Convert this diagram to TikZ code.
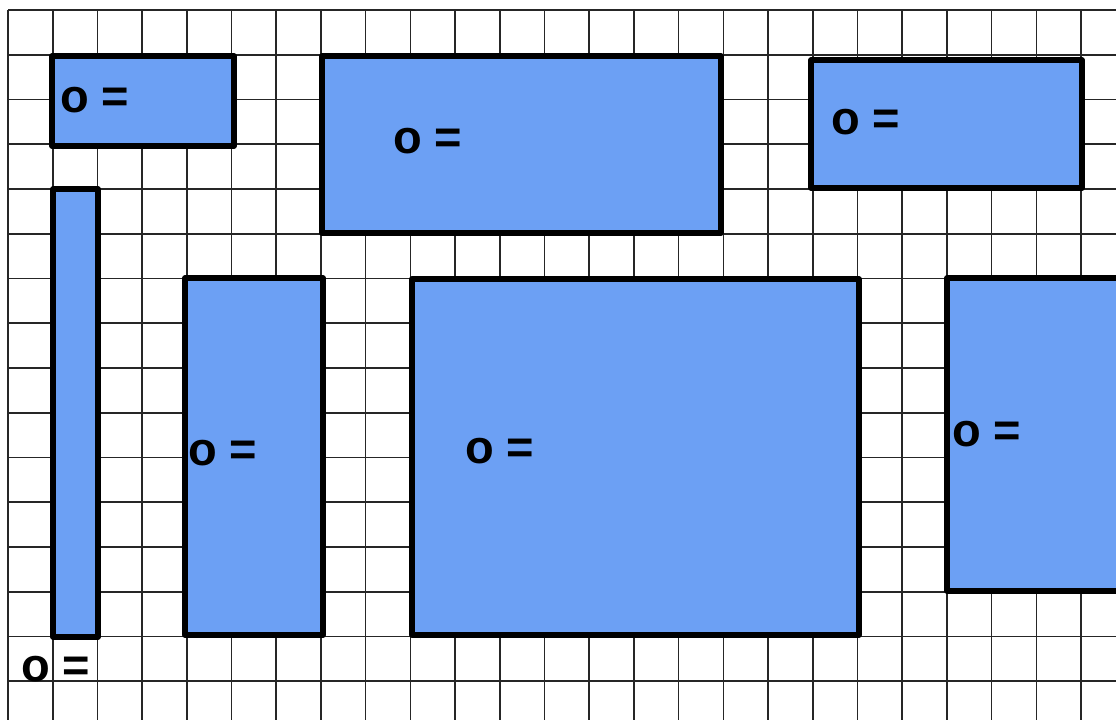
\documentclass[tikz,border=0pt]{standalone}
\usepackage{fontspec}
\setmainfont{Liberation Sans}
\definecolor{boxblue}{RGB}{108,160,244}
\tikzset{
  gridline/.style={line width=1.6pt, draw=black!85},
  area/.style={line width=5.4pt, draw=black, fill=boxblue, line join=round},
  lbl/.style={anchor=base west, inner sep=0pt, text=black, font=\bfseries\fontsize{47}{47}\selectfont}
}
\begin{document}
\begin{tikzpicture}[x=1pt,y=-1pt]
\useasboundingbox (0,0) rectangle (1116,720);
\clip (0,0) rectangle (1116,720);
\fill[white] (0,0) rectangle (1116,720);
% grid
\foreach \i in {0,...,24} \draw[gridline] ({8+44.71*\i},10) -- ({8+44.71*\i},720);
\foreach \j in {0,...,15} \draw[gridline] (8,{10+44.75*\j}) -- (1116,{10+44.75*\j});
% areas
\draw[area] (52,56) rectangle (234,146);
\draw[area] (322,56) rectangle (721,233);
\draw[area] (811,60) rectangle (1082,188);
\draw[area] (53,189) rectangle (98,637);
\draw[area] (185,278) rectangle (323,635);
\draw[area] (412,279) rectangle (859,635);
\draw[area] (947,278) rectangle (1140,591);
% labels
\node[lbl] (t1) at (60,112) {o =};
\node[lbl] (t2) at (393,153) {o =};
\node[lbl] (t3) at (831,134) {o =};
\node[lbl] (t4) at (21,681) {o =};
\node[lbl] (t5) at (188,465) {o =};
\node[lbl] (t6) at (465,463) {o =};
\node[lbl] (t7) at (952,446) {o =};
\end{tikzpicture}
\end{document}
